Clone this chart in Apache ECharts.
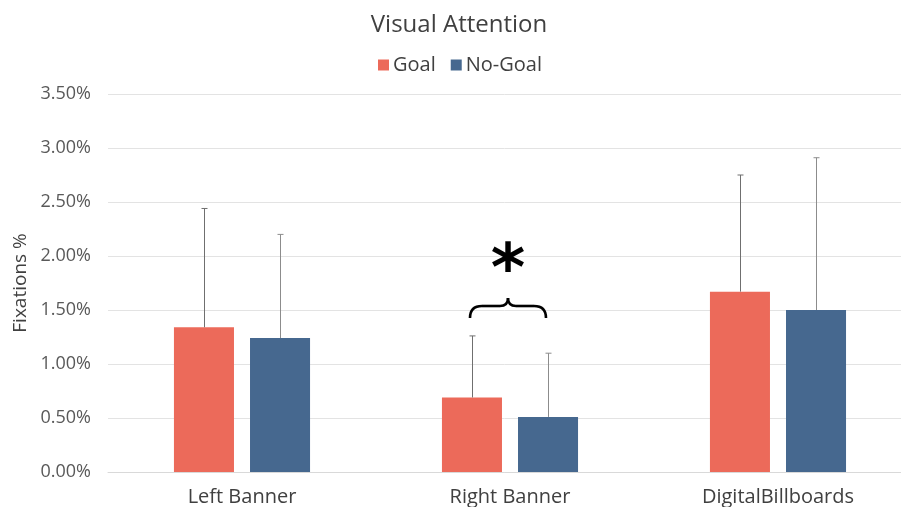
<!DOCTYPE html>
<html>
<head>
<meta charset="utf-8">
<script src="https://cdn.jsdelivr.net/npm/echarts@6/dist/echarts.min.js"></script>
<style>
  html, body { margin: 0; padding: 0; background: #fff; }
  #chart { width: 901px; height: 507px; }
</style>
</head>
<body>
<div id="chart"></div>
<script>
// data (values in %)
const categories = ['Left Banner', 'Right Banner', 'DigitalBillboards']
const goalValues = [1.34, 0.69, 1.67]
const noGoalValues = [1.24, 0.51, 1.50]
const goalErr = [1.10, 0.57, 1.08]
const noGoalErr = [0.96, 0.59, 1.41]
const yTicks = [0, 0.5, 1, 1.5, 2, 2.5, 3, 3.5]

const GOAL = '#EC6A5A'
const NOGOAL = '#46688F'
const FONT = '"Open Sans", Lato, sans-serif'

// the original plot runs past the right edge of the image, so the x axis is
// an index axis whose last band is cut off
const X_MIN = -0.5
const X_MAX = 2.459

// bar geometry as fraction of one category band
const BAR_W = 0.224
const BAR_GAP = 0.267
const OFFSET = BAR_W * (1 + BAR_GAP) / 2

const idx = categories.map((c, i) => i)

function bars(vals, side) {
  return {
    type: 'custom',
    data: vals.map((v, i) => [i, v]),
    renderItem: (params, api) => {
      const band = api.size([1, 0])[0]
      const p = api.coord([api.value(0), api.value(1)])
      const z = api.coord([api.value(0), 0])
      const w = band * BAR_W
      const cx = p[0] + side * band * OFFSET
      return {
        type: 'rect',
        shape: { x: cx - w / 2, y: p[1], width: w, height: z[1] - p[1] },
        style: { fill: api.visual('color') }
      }
    }
  }
}

function errorBars(vals, errs, side, color) {
  return {
    type: 'custom',
    z: 5,
    silent: true,
    data: vals.map((v, i) => [i, v, v + errs[i]]),
    renderItem: (params, api) => {
      const band = api.size([1, 0])[0]
      const base = api.coord([api.value(0), api.value(1)])
      const top = api.coord([api.value(0), api.value(2)])
      const x = Math.round(base[0] + side * band * OFFSET) + 0.5
      const style = { stroke: color, lineWidth: 1 }
      return {
        type: 'group',
        children: [
          { type: 'line', shape: { x1: x, y1: base[1], x2: x, y2: top[1] }, style },
          { type: 'line', shape: { x1: x - 3, y1: top[1], x2: x + 3, y2: top[1] }, style }
        ]
      }
    }
  }
}

const chart = echarts.init(document.getElementById('chart'), null, { renderer: 'canvas' })

chart.setOption({
  backgroundColor: '#fff',
  animation: false,
  title: {
    text: 'Visual Attention',
    left: 454,
    textAlign: 'center',
    top: 8,
    textStyle: { fontFamily: FONT, fontSize: 24, fontWeight: 'normal', color: '#404040' }
  },
  legend: {
    data: ['Goal', 'No-Goal'],
    top: 50,
    left: 373,
    itemWidth: 11,
    itemHeight: 11,
    itemGap: 15,
    icon: 'rect',
    textStyle: { fontFamily: FONT, fontSize: 20, color: '#404040', padding: [0, 0, 0, -1] }
  },
  grid: { left: 108, right: 0, top: 94, bottom: 35 },
  xAxis: {
    type: 'value',
    min: X_MIN,
    max: X_MAX,
    splitLine: { show: false },
    axisTick: { show: false },
    axisLine: { onZero: false, lineStyle: { color: '#d9d9d9', width: 1 } },
    axisLabel: {
      customValues: idx,
      fontFamily: FONT, fontSize: 20, color: '#404040', margin: 15,
      formatter: v => categories[Math.round(v)] ?? ''
    }
  },
  yAxis: {
    type: 'value',
    min: yTicks[0],
    max: yTicks[yTicks.length - 1],
    interval: 0.5,
    name: 'Fixations %',
    nameLocation: 'middle',
    nameGap: 76,
    nameTextStyle: { fontFamily: FONT, fontSize: 19, color: '#404040' },
    axisLine: { show: false },
    axisTick: { show: false },
    splitLine: { lineStyle: { color: '#e3e3e3', width: 1 } },
    axisLabel: {
      fontFamily: FONT, fontSize: 18, color: '#595959', margin: 17,
      formatter: v => v.toFixed(2) + '%'
    }
  },
  series: [
    Object.assign(bars(goalValues, -1), { name: 'Goal', itemStyle: { color: GOAL } }),
    Object.assign(bars(noGoalValues, 1), { name: 'No-Goal', itemStyle: { color: NOGOAL } }),
    errorBars(goalValues, goalErr, -1, '#6f6f6f'),
    errorBars(noGoalValues, noGoalErr, 1, '#8c8c8c')
  ]
})

// significance marker over Right Banner, placed from data coords
function drawMarker() {
  const star = chart.convertToPixel({ gridIndex: 0 }, [1, 2.0])
  const brace = chart.convertToPixel({ gridIndex: 0 }, [1, 1.61])
  const cx = star[0] - 2
  const by = Math.round(brace[1])
  const st = { stroke: '#000', lineWidth: 2.6, fill: null }
  const q = (x1, y1, cpx, cpy, x2, y2) => ({
    type: 'bezierCurve', shape: { x1, y1, cpx1: cpx, cpy1: cpy, x2, y2 }, style: st
  })
  const l = (x1, y1, x2, y2) => ({ type: 'line', shape: { x1, y1, x2, y2 }, style: st })
  chart.setOption({
    graphic: [
      {
        type: 'text',
        x: cx, y: star[1] + 17,
        style: {
          text: '*', fontFamily: '"DejaVu Sans"', fontWeight: 'bold', fontSize: 66,
          fill: '#000', align: 'center', verticalAlign: 'middle'
        }
      },
      {
        type: 'group',
        x: cx, y: by,
        children: [
          q(-38, 20, -38, 8, -26, 8),
          l(-26, 8, -8, 8),
          q(-8, 8, 0, 8, 0, 0),
          q(0, 0, 0, 8, 8, 8),
          l(8, 8, 26, 8),
          q(26, 8, 38, 8, 38, 20)
        ]
      }
    ]
  })
}
drawMarker()
</script>
</body>
</html>
